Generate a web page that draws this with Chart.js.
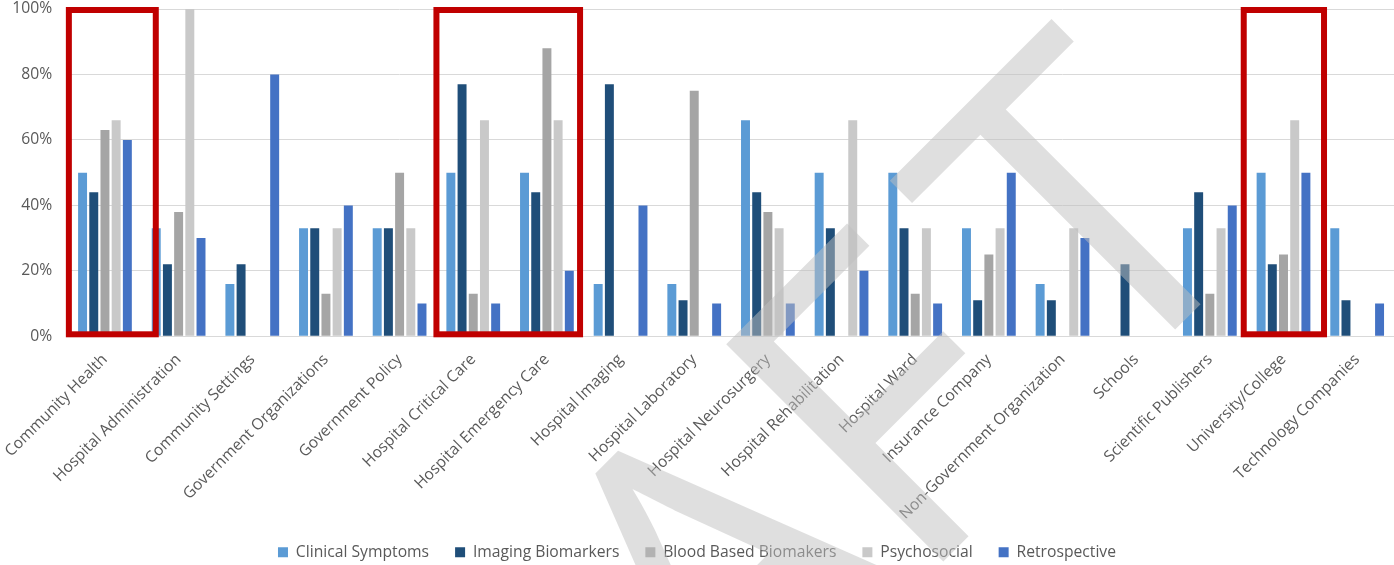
<!DOCTYPE html>
<html lang="en">
<head>
    <meta charset="UTF-8">
    <title>Stakeholder Interest by Sector</title>
    <script src="https://cdn.jsdelivr.net/npm/chart.js"></script>
    <style>
        html, body { margin: 0; padding: 0; background: #fff; }
        #wrap { width: 1394px; height: 565px; }
    </style>
</head>
<body>
    <div id="wrap">
        <canvas id="myChart" width="1394" height="565"></canvas>
    </div>
    <script>
        const categories = [
            "Community Health", "Hospital Administration", "Community Settings",
            "Government Organizations", "Government Policy", "Hospital Critical Care",
            "Hospital Emergency Care", "Hospital Imaging", "Hospital Laboratory",
            "Hospital Neurosurgery", "Hospital Rehabilitation", "Hospital Ward",
            "Insurance Company", "Non-Government Organization", "Schools",
            "Scientific Publishers", "University/College", "Technology Companies"
        ];

        const clinicalSymptoms  = [50, 33, 16, 33, 33, 50, 50, 16, 16, 66, 50, 50, 33, 16, 0, 33, 50, 33];
        const imagingBiomarkers = [44, 22, 22, 33, 33, 77, 44, 77, 11, 44, 33, 33, 11, 11, 22, 44, 22, 11];
        const bloodBased        = [63, 38, 0, 13, 50, 13, 88, 0, 75, 38, 0, 13, 25, 0, 0, 13, 25, 0];
        const psychosocial      = [66, 100, 0, 33, 33, 66, 66, 0, 0, 33, 66, 33, 33, 33, 0, 33, 66, 0];
        const retrospective     = [60, 30, 80, 40, 10, 10, 20, 40, 10, 10, 20, 10, 50, 30, 0, 40, 50, 10];

        const yTicks = [0, 20, 40, 60, 80, 100];

        // highlighted groups, in category units
        const highlightFrom = [-0.49, 4.5, 15.46];
        const highlightTo   = [0.69, 6.45, 16.55];

        const font = "'Open Sans', 'DejaVu Sans', sans-serif";

        const highlightPlugin = {
            id: 'highlight',
            afterDatasetsDraw(chart) {
                const ctx = chart.ctx;
                const x = chart.scales.x;
                const y = chart.scales.y;
                const catW = (x.right - x.left) / categories.length;
                ctx.save();
                ctx.strokeStyle = '#C00000';
                ctx.lineWidth = 6;
                for (let i = 0; i < highlightFrom.length; i++) {
                    const x1 = x.left + (highlightFrom[i] + 0.5) * catW;
                    const x2 = x.left + (highlightTo[i] + 0.5) * catW;
                    const y1 = y.getPixelForValue(100) + 1;
                    const y2 = y.getPixelForValue(0) - 2;
                    ctx.strokeRect(x1, y1, x2 - x1, y2 - y1);
                }
                ctx.restore();
            }
        };

        // big "DRAFT" watermark over everything
        const watermarkPlugin = {
            id: 'watermark',
            afterDraw(chart) {
                const ctx = chart.ctx;
                ctx.save();
                ctx.rotate(-Math.PI / 4);
                ctx.fillStyle = 'rgba(192,192,192,0.5)';
                ctx.font = "430px " + font;
                ctx.textAlign = 'center';
                ctx.textBaseline = 'alphabetic';
                const letters = ['D', 'R', 'A', 'F', 'T'];
                const centers = [-440, -160, 102, 339, 616];
                for (let i = 0; i < letters.length; i++) {
                    ctx.fillText(letters[i], centers[i], 1064);
                }
                ctx.restore();
            }
        };

        function makeSet(label, data, color) {
            return {
                label: label,
                data: data,
                backgroundColor: color,
                borderWidth: 0,
                barPercentage: 0.8,
                categoryPercentage: 0.76
            };
        }

        const ctx = document.getElementById('myChart').getContext('2d');
        const myChart = new Chart(ctx, {
            type: 'bar',
            data: {
                labels: categories,
                datasets: [
                    makeSet('Clinical Symptoms', clinicalSymptoms, '#5B9BD5'),
                    makeSet('Imaging Biomarkers', imagingBiomarkers, '#1F4E79'),
                    makeSet('Blood Based Biomakers', bloodBased, '#A5A5A5'),
                    makeSet('Psychosocial', psychosocial, '#C9C9C9'),
                    makeSet('Retrospective', retrospective, '#4472C4')
                ]
            },
            options: {
                responsive: false,
                animation: false,
                layout: { padding: { top: 0, right: 0, left: 0, bottom: -5 } },
                plugins: {
                    tooltip: { enabled: false },
                    legend: {
                        position: 'bottom',
                        labels: {
                            boxWidth: 10,
                            boxHeight: 10,
                            padding: 26,
                            color: '#595959',
                            font: { family: font, size: 15.7 }
                        }
                    }
                },
                scales: {
                    x: {
                        grid: { display: false },
                        border: { color: '#D9D9D9' },
                        afterFit(scale) {
                            scale.height = 182;
                        },
                        ticks: {
                            autoSkip: false,
                            maxRotation: 45,
                            minRotation: 45,
                            padding: 6,
                            color: '#595959',
                            font: { family: font, size: 15.7 }
                        }
                    },
                    y: {
                        min: 0,
                        max: 100,
                        afterBuildTicks(scale) {
                            scale.ticks = yTicks.map(v => ({ value: v }));
                        },
                        afterFit(scale) {
                            scale.width = 66;
                            scale.paddingTop = 9;
                            scale.paddingBottom = 0;
                        },
                        grid: { color: '#D9D9D9', drawTicks: false },
                        border: { display: false },
                        ticks: {
                            padding: 16,
                            color: '#595959',
                            font: { family: font, size: 15.7 },
                            callback: v => v + '%'
                        }
                    }
                }
            },
            plugins: [highlightPlugin, watermarkPlugin]
        });
    </script>
</body>
</html>
